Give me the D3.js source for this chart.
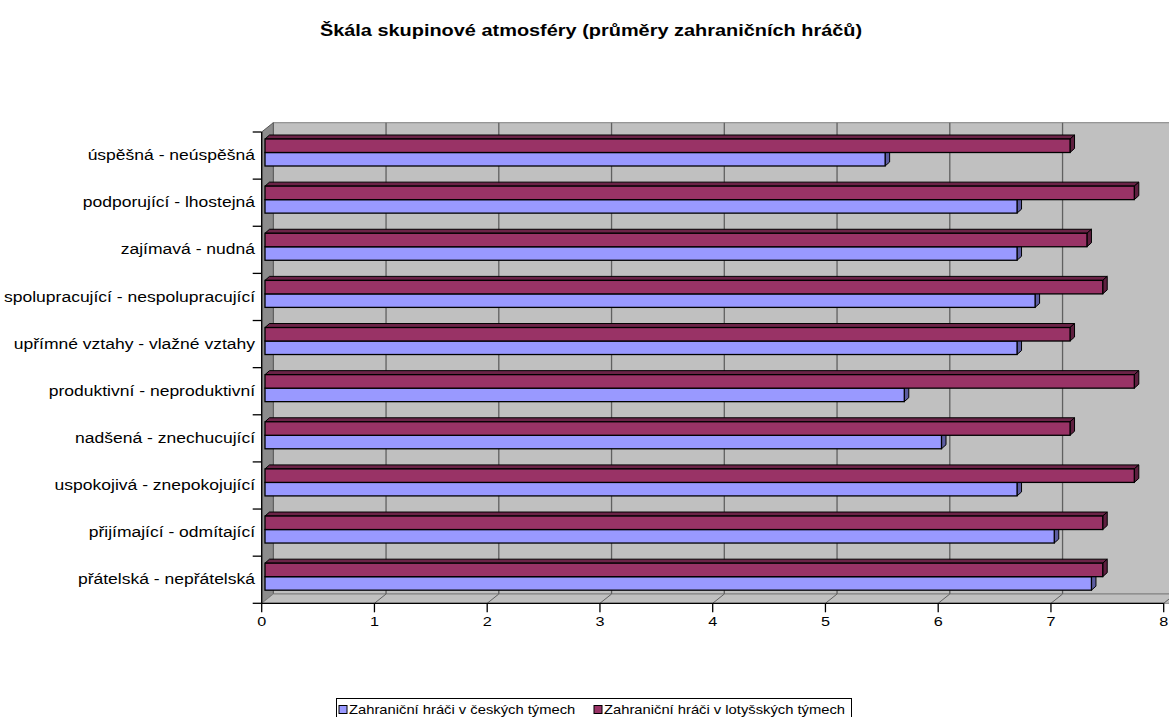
<!DOCTYPE html>
<html>
<head>
<meta charset="utf-8">
<script src="https://cdn.jsdelivr.net/npm/d3@7/dist/d3.min.js"></script>
<style>
  html, body { margin: 0; padding: 0; background: #fff; }
  svg { display: block; font-family: "Liberation Sans", Arial, sans-serif; }
</style>
</head>
<body>
<svg id="chart" width="1169" height="717"></svg>
<script>
// Categories, top to bottom as shown on the vertical axis
const categories = [
  "úspěšná - neúspěšná",
  "podporující - lhostejná",
  "zajímavá - nudná",
  "spolupracující - nespolupracující",
  "upřímné vztahy - vlažné vztahy",
  "produktivní - neproduktivní",
  "nadšená - znechucující",
  "uspokojivá - znepokojující",
  "přijímající - odmítající",
  "přátelská - nepřátelská"
];
// Mean scores for each group
const czechTeams  = [5.50, 6.67, 6.67, 6.83, 6.67, 5.67, 6.00, 6.67, 7.00, 7.33];
const latvianTeams = [7.14, 7.71, 7.29, 7.43, 7.14, 7.71, 7.14, 7.71, 7.43, 7.43];
const seriesNames = ["Zahraniční hráči v českých týmech", "Zahraniční hráči v lotyšských týmech"];
const xTicks = [0, 1, 2, 3, 4, 5, 6, 7, 8];
const title = "Škála skupinové atmosféry (průměry zahraničních hráčů)";

const svg = d3.select("#chart");
const W = 1169, H = 717;
const stretch = 1.2; // text is drawn slightly wide

// Front plane of the 3-D plot area
const x = d3.scaleLinear().domain([0, 8]).range([261.7, 1163.7]);
const y = d3.scaleBand().domain(categories).range([132, 603.3]);
const depth = { dx: 11.6, dy: -9.3 };      // wall depth
const barOff = { dx: 3.3, dy: 0 };         // bar front face offset
const barDepth = { dx: 4.5, dy: -4 };      // bar thickness into the scene

const y0 = y.range()[0], y1 = y.range()[1];
const x0 = x(0), x8 = x(8);

function wideText(sel, tx, ty) {
  return sel.attr("transform", (d, i) => `translate(${tx(d, i)},${ty(d, i)}) scale(${stretch},1)`);
}

// Back wall
svg.append("rect")
  .attr("x", x0 + depth.dx).attr("y", y0 + depth.dy)
  .attr("width", W - (x0 + depth.dx) + 20).attr("height", y1 - y0)
  .attr("fill", "#c0c0c0").attr("stroke", "#808080").attr("stroke-width", 1);

// Side wall
svg.append("polygon")
  .attr("points", [[x0, y0], [x0 + depth.dx, y0 + depth.dy], [x0 + depth.dx, y1 + depth.dy], [x0, y1]].join(" "))
  .attr("fill", "#8c8c8c").attr("stroke", "#555").attr("stroke-width", 1);

// Floor
svg.append("polygon")
  .attr("points", [[x0, y1], [x0 + depth.dx, y1 + depth.dy], [x8 + depth.dx + 20, y1 + depth.dy], [x8 + 20, y1]].join(" "))
  .attr("fill", "#c0c0c0").attr("stroke", "#808080").attr("stroke-width", 1);

// Gridlines on back wall and floor
const grid = svg.append("g");
xTicks.slice(1).forEach(t => {
  const xb = x(t) + depth.dx;
  grid.append("line")
    .attr("x1", xb).attr("x2", xb)
    .attr("y1", y0 + depth.dy).attr("y2", y1 + depth.dy)
    .attr("stroke", "#606060").attr("stroke-width", 1.3);
  grid.append("line")
    .attr("x1", xb).attr("x2", x(t))
    .attr("y1", y1 + depth.dy).attr("y2", y1)
    .attr("stroke", "#606060").attr("stroke-width", 1);
});

// Bars
const barH = 13.5;
function drawBar(g, v, top, fill, topFill, sideFill) {
  const xa = x(0) + barOff.dx, xb = x(v) + barOff.dx;
  const ya = top, yb = top + barH;
  g.append("polygon")
    .attr("points", [[xa, ya], [xa + barDepth.dx, ya + barDepth.dy], [xb + barDepth.dx, ya + barDepth.dy], [xb, ya]].join(" "))
    .attr("fill", topFill).attr("stroke", "#000").attr("stroke-width", 1).attr("stroke-linejoin", "round");
  g.append("polygon")
    .attr("points", [[xb, ya], [xb + barDepth.dx, ya + barDepth.dy], [xb + barDepth.dx, yb + barDepth.dy], [xb, yb]].join(" "))
    .attr("fill", sideFill).attr("stroke", "#000").attr("stroke-width", 1).attr("stroke-linejoin", "round");
  g.append("rect")
    .attr("x", xa).attr("y", ya).attr("width", xb - xa).attr("height", barH)
    .attr("fill", fill).attr("stroke", "#000").attr("stroke-width", 1.3);
}
const bars = svg.append("g");
categories.forEach((c, i) => {
  const b = y(c);
  const g = bars.append("g");
  drawBar(g, czechTeams[i], b + 20.5, "#9999ff", "#6b6bb3", "#5c5ca0");
  drawBar(g, latvianTeams[i], b + 7, "#993366", "#6b2347", "#5e1f3f");
});

// Axes
svg.append("line").attr("x1", x0).attr("x2", x0).attr("y1", y0).attr("y2", y1)
  .attr("stroke", "#000").attr("stroke-width", 1.3);
svg.append("line").attr("x1", x0).attr("x2", x8).attr("y1", y1).attr("y2", y1)
  .attr("stroke", "#000").attr("stroke-width", 1.3);

// Category tick marks at band boundaries
const bounds = categories.map(c => y(c)).concat([y1]);
svg.append("g").selectAll("line").data(bounds).join("line")
  .attr("x1", x0 - 9).attr("x2", x0).attr("y1", d => d).attr("y2", d => d)
  .attr("stroke", "#000").attr("stroke-width", 1.3);

// Value axis ticks and labels
const xt = svg.append("g");
xt.selectAll("line").data(xTicks).join("line")
  .attr("x1", d => x(d)).attr("x2", d => x(d))
  .attr("y1", y1).attr("y2", y1 + 9)
  .attr("stroke", "#000").attr("stroke-width", 1.3);
wideText(xt.selectAll("text").data(xTicks).join("text"), d => x(d), () => 621)
  .attr("dy", "0.35em").attr("text-anchor", "middle").attr("font-size", 13.5).text(d => d);

// Category labels
wideText(svg.append("g").selectAll("text").data(categories).join("text"),
    () => 255, d => y(d) + y.bandwidth() / 2 - 0.5)
  .attr("dy", "0.35em").attr("text-anchor", "end").attr("font-size", 14.6).text(d => d);

// Title
wideText(svg.append("text").datum(title), () => 591, () => 30)
  .attr("dy", "0.35em").attr("text-anchor", "middle")
  .attr("font-size", 16.6).attr("font-weight", "bold").text(title);

// Legend
const lg = svg.append("g");
lg.append("rect").attr("x", 336.5).attr("y", 698.5).attr("width", 515).attr("height", 30)
  .attr("fill", "#fff").attr("stroke", "#000").attr("stroke-width", 1);
const legendItems = [
  { name: seriesNames[0], color: "#9999ff", x: 339 },
  { name: seriesNames[1], color: "#993366", x: 594 }
];
legendItems.forEach(it => {
  lg.append("rect").attr("x", it.x).attr("y", 705.5).attr("width", 8).attr("height", 8)
    .attr("fill", it.color).attr("stroke", "#000").attr("stroke-width", 1);
  wideText(lg.append("text").datum(it), () => it.x + 10, () => 710)
    .attr("dy", "0.35em").attr("font-size", 12.3).text(it.name);
});
</script>
</body>
</html>
